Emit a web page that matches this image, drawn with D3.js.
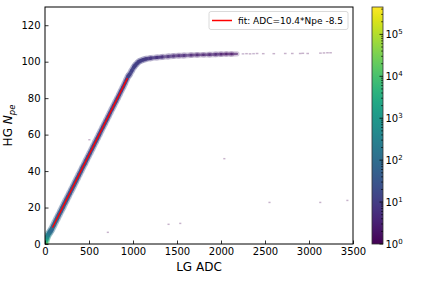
<!DOCTYPE html>
<html><head><meta charset="utf-8">
<script src="https://cdn.jsdelivr.net/npm/d3@7"></script>
<style>body{margin:0;background:#fff}svg{display:block}text{font-family:"DejaVu Sans",sans-serif}</style>
</head><body><svg id="c" width="436" height="281"></svg>
<script>
// ---- data ----
const xTicks = [0,500,1000,1500,2000,2500,3000,3500];
const yTicks = [0,20,40,60,80,100,120];
const cbarExponents = [0,1,2,3,4,5];
// main band of the 2D histogram: LG ADC, HG Npe, counts
const bandADC = [4,8,12,18,25,35,48,62,75,96,116,137,158,179,200,220,241,262,283,304,325,345,366,387,408,428,450,470,491,512,533,553,574,595,616,636,657,678,699,720,740,761,782,803,824,845,865,886,906,925,945,962,985,1010,1025,1045,1065,1090,1120,1150,1200,1270,1330,1400,1460,1520,1580,1660,1730,1800,1870,1940,2000,2060,2120,2180];
const bandNpe = [0,1,2,3,4,5,6,7,8,10,12,14,16,18,20,22,24,26,28,30,32,34,36,38,40,42,44,46,48,50,52,54,56,58,60,62,64,66,68,70,72,74,76,78,80,82,84,86,88,90,92,93,95,97,98,99,100,100.6,101.1,101.5,101.9,102.3,102.6,102.9,103.1,103.3,103.4,103.6,103.7,103.8,103.9,104.0,104.1,104.2,104.2,104.3];
const bandCount = [30000,9000,3000,1200,500,250,150,100,80,70,60,50,45,40,40,35,35,30,30,30,28,28,25,25,25,22,22,20,20,20,20,18,18,18,18,16,16,16,15,15,15,14,14,14,14,13,13,12,12,12,12,12,12,12,11,11,10,10,9,8,7,6,5,5,4,4,4,3,3,3,3,3,2,2,2,2];
// sparse saturated tail
const tailADC = [2250,2290,2330,2370,2410,2480,2600,2730,2810,2900,2930,2985,3130,3170,3210,3245];
const tailNpe = [104.3,104.4,104.3,104.4,104.5,104.4,104.4,104.5,104.5,104.5,104.6,104.5,104.7,104.8,104.9,104.9];
const tailCount = [2,1,1,2,1,1,1,1,1,1,1,1,1,1,1,1];
// isolated outlier bins
const outADC = [714,1404,1537,2038,2551,3128,3436,504];
const outNpe = [6.4,10.8,11.3,46.8,22.8,22.8,23.9,57.2];
const outCount = [1,1,1,1,1,1,1,1];
// linear fit ADC = 10.4*Npe - 8.5, drawn between these Npe
const fitSlope = 10.4, fitIntercept = -8.5;
const fitNpeRange = [9, 91];
const legendText = "fit: ADC=10.4*Npe -8.5";
const countMax = 450000;

// ---- layout ----
const svg = d3.select("#c");
const L = 45, R = 353, T = 7, B = 244;
const x = d3.scaleLinear().domain([0,3500]).range([L,R]);
const y = d3.scaleLinear().domain([0,130]).range([B,T]);
const color = d3.scaleSequentialLog(d3.interpolateViridis).domain([1,countMax]);

const g = svg.append("g");
g.append("defs").append("clipPath").attr("id","clip").append("rect")
  .attr("x",L).attr("y",T).attr("width",R-L).attr("height",B-T);
const plot = g.append("g").attr("clip-path","url(#clip)");

const band = bandADC.map((a,i)=>({a, n:bandNpe[i], c:bandCount[i]}));
const tail = tailADC.map((a,i)=>({a, n:tailNpe[i], c:tailCount[i]}));
const outs = outADC.map((a,i)=>({a, n:outNpe[i], c:outCount[i]}));
const segs = d3.pairs(band);
const thick = d => 2.0 + 1.5*Math.log10(Math.max(1, Math.min(40, d)));

// halo (lighter fringe) then core of the band
plot.selectAll("line.halo").data(segs).join("line")
  .attr("x1",d=>x(d[0].a)).attr("y1",d=>y(d[0].n)).attr("x2",d=>x(d[1].a)).attr("y2",d=>y(d[1].n))
  .attr("stroke",d=>color(d[0].c)).attr("stroke-width",d=>thick(d[0].c)+3).attr("stroke-linecap","round")
  .attr("opacity",0.22);
plot.selectAll("line.core").data(segs).join("line")
  .attr("x1",d=>x(d[0].a)).attr("y1",d=>y(d[0].n)).attr("x2",d=>x(d[1].a)).attr("y2",d=>y(d[1].n))
  .attr("stroke",d=>color(d[0].c)).attr("stroke-width",d=>thick(d[0].c)).attr("stroke-linecap","round")
  .attr("opacity",d=>d[0].c>5?0.82:0.6);
plot.selectAll("rect.tail").data(tail).join("rect")
  .attr("x",d=>x(d.a-15)).attr("y",d=>y(d.n+0.4))
  .attr("width",x(30)-x(0)).attr("height",y(0)-y(0.8))
  .attr("fill",d=>color(d.c)).attr("opacity",0.3);
plot.selectAll("rect.out").data(outs).join("rect")
  .attr("x",d=>x(d.a-12)).attr("y",d=>y(d.n+0.4))
  .attr("width",x(24)-x(0)).attr("height",y(0)-y(0.8))
  .attr("fill",d=>color(d.c)).attr("opacity",0.3);

// fit line
plot.append("line")
  .attr("x1",x(fitSlope*fitNpeRange[0]+fitIntercept)).attr("y1",y(fitNpeRange[0]))
  .attr("x2",x(fitSlope*fitNpeRange[1]+fitIntercept)).attr("y2",y(fitNpeRange[1]))
  .attr("stroke","red").attr("stroke-width",1.3);

// axes
const xa = g.append("g").attr("transform",`translate(0,${B})`)
  .call(d3.axisBottom(x).tickValues(xTicks).tickFormat(d3.format("d")).tickSizeInner(-3.5).tickSizeOuter(0).tickPadding(3.5));
const ya = g.append("g").attr("transform",`translate(${L},0)`)
  .call(d3.axisLeft(y).tickValues(yTicks).tickFormat(d3.format("d")).tickSizeInner(-3.5).tickSizeOuter(0).tickPadding(4.5));
[xa,ya].forEach(a=>{a.select(".domain").remove();a.selectAll("text").attr("font-size",10).attr("fill","#000").style("font-family","DejaVu Sans");a.selectAll("line").attr("stroke","#000").attr("stroke-width",0.8);});

g.append("rect").attr("x",L).attr("y",T).attr("width",R-L).attr("height",B-T)
  .attr("fill","none").attr("stroke","#000").attr("stroke-width",1);

// axis labels
g.append("text").attr("x",(L+R)/2).attr("y",271).attr("text-anchor","middle")
  .attr("font-size",12).text("LG ADC");
const yl = g.append("text").attr("transform",`translate(12,${(T+B)/2}) rotate(-90)`)
  .attr("text-anchor","middle").attr("font-size",12);
yl.append("tspan").text("HG ");
yl.append("tspan").attr("font-style","italic").text("N");
yl.append("tspan").attr("font-style","italic").attr("font-size",8.5).attr("dy",2.5).text("pe");

// legend
const lg = g.append("g");
lg.append("rect").attr("x",209).attr("y",11.5).attr("width",139).attr("height",18).attr("rx",2)
  .attr("fill","#fff").attr("fill-opacity",0.8).attr("stroke","#d0d0d0").attr("stroke-width",0.8);
lg.append("line").attr("x1",212).attr("x2",232).attr("y1",20.5).attr("y2",20.5).attr("stroke","red").attr("stroke-width",1.5);
lg.append("text").attr("x",238).attr("y",24).attr("font-size",9).text(legendText);

// colorbar
const CX = 372, CW = 11, CT = 7, CB = 244;
const cy = d3.scaleLog().domain([1,countMax]).range([CB,CT]);
const grad = g.select("defs").append("linearGradient").attr("id","vir").attr("x1",0).attr("x2",0).attr("y1",1).attr("y2",0);
d3.range(0,1.0001,0.05).forEach(t=>grad.append("stop").attr("offset",t).attr("stop-color",d3.interpolateViridis(t)));
g.append("rect").attr("x",CX).attr("y",CT).attr("width",CW).attr("height",CB-CT).attr("fill","url(#vir)")
  .attr("stroke","#333").attr("stroke-width",0.8);
const minor = [];
for (let e=0;e<=5;e++) for (let m=2;m<=9;m++){const v=m*Math.pow(10,e); if(v<countMax) minor.push(v);}
g.selectAll("line.cmin").data(minor).join("line")
  .attr("x1",CX+CW).attr("x2",CX+CW-2).attr("y1",d=>cy(d)).attr("y2",d=>cy(d)).attr("stroke","#000").attr("stroke-width",0.6);
g.selectAll("line.cmaj").data(cbarExponents).join("line")
  .attr("x1",CX+CW).attr("x2",CX+CW-3.5).attr("y1",d=>cy(Math.pow(10,d))).attr("y2",d=>cy(Math.pow(10,d))).attr("stroke","#000").attr("stroke-width",0.8);
const cl = g.selectAll("text.cl").data(cbarExponents).join("text")
  .attr("x",CX+CW+2.5).attr("y",d=>cy(Math.pow(10,d))+4).attr("font-size",10);
cl.append("tspan").text("10");
cl.append("tspan").attr("font-size",7).attr("dy",-4).text(d=>d);
</script></body></html>
